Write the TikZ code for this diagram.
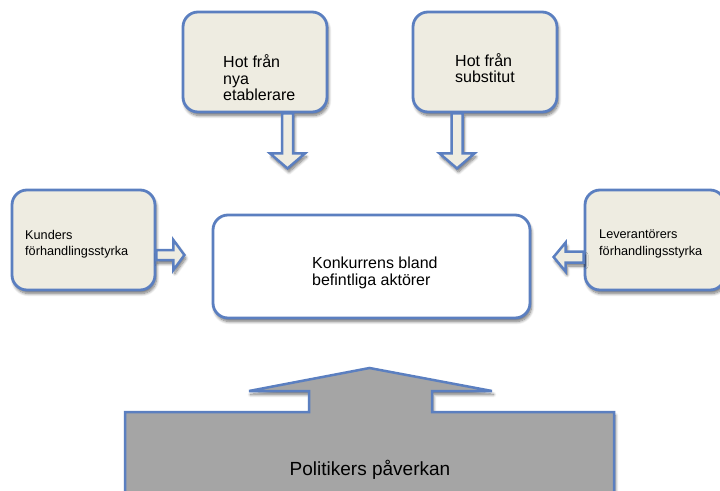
\documentclass[tikz,border=0pt]{standalone}
\usepackage{fontspec}
\setmainfont{Liberation Sans}
\usetikzlibrary{shadows.blur,calc}
\definecolor{bord}{HTML}{5B7FC0}
\definecolor{beige}{HTML}{EEECE1}
\definecolor{grayfill}{HTML}{A5A5A5}
\tikzset{
 shad/.style={blur shadow={shadow xshift=1.5pt,shadow yshift=-3.5pt,shadow blur steps=8,shadow blur radius=3pt,shadow opacity=55}},
 box/.style={draw=bord,line width=2.8pt,fill=beige,rounded corners=15pt,shad,inner sep=0pt},
 whitebox/.style={box,fill=white},
 txt/.style={inner sep=0pt,align=left,anchor=north west,text=black},
 bigtxt/.style={txt,font=\fontsize{16}{16.5}\selectfont},
 midtxt/.style={txt,font=\fontsize{16}{17.5}\selectfont},
 smalltxt/.style={txt,font=\fontsize{12.7}{16.5}\selectfont},
 barrow/.style={draw=bord,line width=2.5pt,fill=beige,line join=miter,shad},
}
% #1 start, #2 angle, #3 length, #4 head length, #5 shaft half width, #6 head half width
\newcommand\blockarr[6]{%
 \draw[barrow,shift={(#1)},rotate=#2] (0,-#5) -- ({#3-#4},-#5) -- ({#3-#4},-#6) -- (#3,0)
   -- ({#3-#4},#6) -- ({#3-#4},#5) -- (0,#5) -- cycle;}
\begin{document}
\begin{tikzpicture}[x=1pt,y=-1pt]
\useasboundingbox (0,0) rectangle (720,490);
\clip (0,0) rectangle (720,490);
% boxes
\node[box,minimum width=144pt,minimum height=100pt] (tl) at (255,62) {};
\node[box,minimum width=144pt,minimum height=100pt] (tr) at (485,62) {};
\node[box,minimum width=143pt,minimum height=100pt] (lb) at (83.5,240) {};
\node[box,minimum width=140pt,minimum height=100pt] (rb) at (655,240) {};
\node[whitebox,minimum width=317pt,minimum height=103pt] (cb) at (371.5,266.5) {};
% texts
\node[bigtxt] (tlt) at (223,54.7) {Hot från\\nya\\etablerare};
\node[bigtxt] (trt) at (455,53) {Hot från\\substitut};
\node[smalltxt] (lbt) at (25,229.7) {Kunders\\förhandlingsstyrka};
\node[smalltxt] (rbt) at (599,229.7) {Leverantörers\\förhandlingsstyrka};
\node[midtxt] (cbt) at (312,256.3) {Konkurrens bland\\befintliga aktörer};
% block arrows
\blockarr{$(tl.south)+(32.5,0)$}{-90}{55}{15}{5.5}{17.5}
\blockarr{$(tr.south)+(-28,0)$}{-90}{55}{15}{5.5}{17.5}
\blockarr{$(lb.east)+(0,15)$}{0}{28}{11}{5}{15}
\blockarr{$(rb.west)+(0,17)$}{180}{30}{12}{5.5}{14.5}
% big arrow
\draw[draw=bord,line width=2.5pt,fill=grayfill,line join=miter,shad]
 (125,505) -- (125,412) -- (309,412) -- (309,391) -- (249,391) -- (369.5,368)
 -- (492,391) -- (432,391) -- (432,412) -- (614,412) -- (614,505) -- cycle;
\node[font=\fontsize{19}{22}\selectfont,anchor=base,inner sep=0pt] (pol) at (370,475) {Politikers påverkan};
\end{tikzpicture}
\end{document}
